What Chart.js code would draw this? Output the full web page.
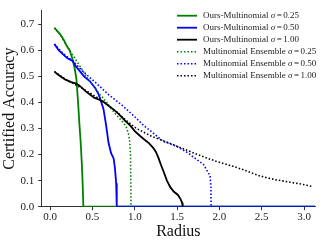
<!DOCTYPE html>
<html>
<head>
<meta charset="utf-8">
<script src="https://cdn.jsdelivr.net/npm/chart.js@4"></script>
<style>
html,body{margin:0;padding:0;background:#fff;}
canvas{display:block;}
</style>
</head>
<body>
<canvas id="c" width="332" height="245"></canvas>
<script>
// ---- data ----
const xTicks = [0.0, 0.5, 1.0, 1.5, 2.0, 2.5, 3.0];
const yTicks = [0.0, 0.1, 0.2, 0.3, 0.4, 0.5, 0.6, 0.7];

const seriesNames = ["Ours-Multinomial", "Ours-Multinomial", "Ours-Multinomial",
  "Multinomial Ensemble", "Multinomial Ensemble", "Multinomial Ensemble"];
const sigmas = ["0.25", "0.50", "1.00", "0.25", "0.50", "1.00"];

const oursR025 = [0.05, 0.08, 0.12, 0.16, 0.20, 0.23, 0.26, 0.29, 0.31, 0.33, 0.345, 0.36, 0.375, 0.385, 0.392, 3.13];
const oursA025 = [0.686, 0.675, 0.660, 0.640, 0.614, 0.600, 0.570, 0.530, 0.490, 0.400, 0.320, 0.250, 0.160, 0.080, 0.0, 0.0];

const oursR050 = [0.05, 0.10, 0.15, 0.20, 0.27, 0.30, 0.35, 0.40, 0.47, 0.53, 0.57, 0.60, 0.63, 0.66, 0.69, 0.72, 0.75, 0.765, 0.78, 0.787, 3.13];
const oursA050 = [0.624, 0.600, 0.585, 0.570, 0.558, 0.540, 0.520, 0.500, 0.481, 0.456, 0.433, 0.405, 0.375, 0.315, 0.245, 0.205, 0.185, 0.150, 0.090, 0.0, 0.0];

const oursR100 = [0.05, 0.08, 0.12, 0.18, 0.25, 0.30, 0.34, 0.38, 0.42, 0.47, 0.52, 0.58, 0.63, 0.69, 0.74, 0.79, 0.84, 0.89, 0.95, 1.00, 1.06, 1.12, 1.17, 1.22, 1.25, 1.28, 1.31, 1.34, 1.38, 1.42, 1.46, 1.51, 1.54, 1.56, 1.566];
const oursA100 = [0.518, 0.510, 0.500, 0.487, 0.478, 0.473, 0.466, 0.455, 0.442, 0.430, 0.418, 0.410, 0.402, 0.387, 0.375, 0.362, 0.345, 0.328, 0.310, 0.290, 0.272, 0.256, 0.243, 0.225, 0.210, 0.187, 0.160, 0.135, 0.100, 0.075, 0.058, 0.045, 0.030, 0.015, 0.0];

const ensR025 = [0.05, 0.12, 0.20, 0.256, 0.35, 0.433, 0.55, 0.669, 0.76, 0.866, 0.90, 0.925, 0.94, 0.95, 0.953, 0.955];
const ensA025 = [0.686, 0.660, 0.614, 0.587, 0.540, 0.497, 0.445, 0.400, 0.360, 0.322, 0.305, 0.281, 0.250, 0.200, 0.100, 0.0];

const ensR050 = [0.05, 0.15, 0.27, 0.40, 0.53, 0.69, 0.846, 0.983, 1.10, 1.20, 1.34, 1.50, 1.63, 1.73, 1.81, 1.87, 1.89, 1.90, 1.902];
const ensA050 = [0.624, 0.588, 0.558, 0.515, 0.478, 0.430, 0.390, 0.350, 0.313, 0.287, 0.250, 0.231, 0.206, 0.181, 0.163, 0.130, 0.119, 0.075, 0.0];

const ensR100 = [0.05, 0.20, 0.40, 0.60, 0.80, 0.90, 1.02, 1.20, 1.37, 1.55, 1.76, 1.96, 2.16, 2.30, 2.47, 2.55, 2.67, 2.87, 2.95, 3.06, 3.10];
const ensA100 = [0.518, 0.485, 0.450, 0.410, 0.360, 0.330, 0.300, 0.270, 0.249, 0.225, 0.198, 0.174, 0.155, 0.140, 0.119, 0.112, 0.103, 0.092, 0.088, 0.080, 0.078];

const colors = ["#008000", "#0000ff", "#000000", "#008000", "#0000ff", "#000000"];
const dotted = [false, false, false, true, true, true];
const radii = [oursR025, oursR050, oursR100, ensR025, ensR050, ensR100];
const accs = [oursA025, oursA050, oursA100, ensA025, ensA050, ensA100];

const SERIF = '"Liberation Serif", "Times New Roman", serif';
const DOT = [1.5, 2.0];

const datasets = radii.map((r, i) => ({
  label: seriesNames[i] + " \u03c3 = " + sigmas[i],
  data: r.map((x, j) => ({x: x, y: accs[i][j]})),
  borderColor: colors[i],
  backgroundColor: colors[i],
  borderWidth: dotted[i] ? 1.6 : 1.8,
  borderDash: dotted[i] ? DOT : [],
  pointRadius: 0,
  tension: 0,
  fill: false,
  order: radii.length - 1 - i
}));

// Legend drawn inside the plot (upper right)
const innerLegend = {
  id: 'innerLegend',
  afterDraw(chart) {
    const ctx = chart.ctx;
    const x0 = 177, hw = 20, tx = 203, y0 = 15.7, dy = 12;
    ctx.save();
    datasets.forEach((ds, i) => {
      const y = y0 + i * dy;
      ctx.strokeStyle = colors[i];
      ctx.lineWidth = dotted[i] ? 1.6 : 1.8;
      ctx.setLineDash(dotted[i] ? DOT : []);
      ctx.beginPath();
      ctx.moveTo(x0, y);
      ctx.lineTo(x0 + hw, y);
      ctx.stroke();
      ctx.setLineDash([]);
      ctx.fillStyle = '#222';
      ctx.textBaseline = 'middle';
      ctx.textAlign = 'left';
      let x = tx;
      ctx.font = '9px ' + SERIF;
      const pre = seriesNames[i] + ' ';
      ctx.fillText(pre, x, y);
      x += ctx.measureText(pre).width;
      ctx.font = 'italic 9px ' + SERIF;
      ctx.fillText('\u03c3', x, y);
      x += ctx.measureText('\u03c3').width + 1.5;
      ctx.font = '9px ' + SERIF;
      ctx.fillText('=', x, y);
      x += ctx.measureText('=').width + 1.5;
      ctx.fillText(sigmas[i], x, y);
    });
    ctx.restore();
  }
};

new Chart(document.getElementById('c'), {
  type: 'line',
  data: {datasets: datasets},
  options: {
    responsive: false,
    animation: false,
    devicePixelRatio: 1,
    layout: {padding: {left: 0, right: 17, top: 5, bottom: 0}},
    plugins: {legend: {display: false}, tooltip: {enabled: false}},
    scales: {
      x: {
        type: 'linear',
        min: -0.1,
        max: 3.13,
        afterBuildTicks: (s) => { s.ticks = xTicks.map(v => ({value: v})); },
        afterFit: (s) => { s.height = 38.3; },
        grid: {display: true, drawOnChartArea: false, drawTicks: true, tickLength: 3.5, color: '#333', lineWidth: 1},
        border: {display: true, color: '#333', width: 1},
        ticks: {
          font: {family: SERIF, size: 11},
          color: '#222',
          padding: 0,
          maxRotation: 0,
          callback: (v) => Number(v).toFixed(1)
        },
        title: {display: true, text: 'Radius', font: {family: SERIF, size: 16}, color: '#111', padding: {top: 0, bottom: 4}}
      },
      y: {
        type: 'linear',
        min: 0,
        max: 0.752,
        afterBuildTicks: (s) => { s.ticks = yTicks.map(v => ({value: v})); },
        afterFit: (s) => { s.width = 41.7; },
        grid: {display: true, drawOnChartArea: false, drawTicks: true, tickLength: 3.5, color: '#333', lineWidth: 1},
        border: {display: true, color: '#333', width: 1},
        ticks: {
          font: {family: SERIF, size: 11},
          color: '#222',
          padding: 4,
          callback: (v) => Number(v).toFixed(1)
        },
        title: {display: true, text: 'Certified Accuracy', font: {family: SERIF, size: 16}, color: '#111', padding: {top: 0, bottom: 0}}
      }
    }
  },
  plugins: [innerLegend]
});
</script>
</body>
</html>
